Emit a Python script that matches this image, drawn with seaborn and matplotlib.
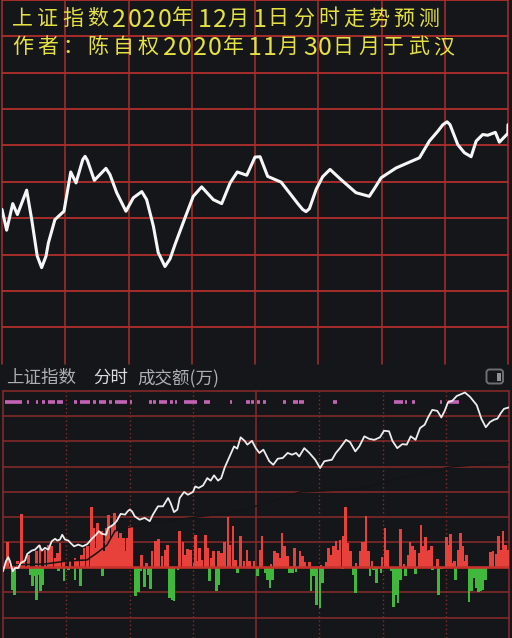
import matplotlib
matplotlib.use("Agg")
import matplotlib.pyplot as plt
import seaborn as sns
from matplotlib.patches import FancyBboxPatch, Rectangle

# ---------------------------------------------------------------------------
# Data
# ---------------------------------------------------------------------------
TITLE_LINE1 = "上证指数2020年12月1日分时走势预测"
TITLE_LINE2 = "作者：陈自权2020年11月30日月于武汉"
HEADER_NAME = "上证指数"
HEADER_MODE = "分时"
HEADER_UNIT = "成交额(万)"

# forecast curve (minutes since open, index points)
forecast_minutes = [
    0.0, 2.2, 5.1, 7.3, 11.7, 14.1, 16.7, 18.8, 20.9, 22.0, 25.1, 29.4, 32.6,
    35.1, 38.3, 39.4, 40.5, 43.8, 49.3, 51.2, 54.4, 58.8, 62.3, 66.3, 68.6,
    71.8, 74.1, 74.9, 77.3, 79.7, 82.1, 86.8, 90.7, 94.7, 100.2, 104.2, 108.2,
    111.6, 116.1, 120.0, 122.4, 126.0, 132.4, 136.3, 140.3, 142.6, 144.2,
    145.8, 149.0, 152.1, 155.6, 160.8, 167.9, 174.2, 176.6, 179.8, 186.9,
    198.0, 202.7, 206.7, 209.1, 211.1, 212.5, 216.2, 219.3, 222.5, 224.9,
    228.0, 230.4, 234.0, 235.9, 239.9, 240.0,
]
forecast_index = [
    3384.4, 3378.7, 3386.0, 3383.0, 3389.7, 3381.6, 3371.6, 3368.4, 3371.6,
    3375.2, 3381.6, 3383.9, 3394.7, 3391.7, 3398.1, 3399.0, 3397.9, 3392.4,
    3395.7, 3394.0, 3389.0, 3383.9, 3387.6, 3389.3, 3387.1, 3379.8, 3372.5,
    3371.6, 3368.7, 3370.8, 3374.8, 3382.1, 3388.0, 3390.6, 3387.1, 3386.0,
    3391.7, 3394.7, 3393.8, 3398.8, 3398.9, 3393.5, 3391.9, 3389.0, 3386.0,
    3384.4, 3383.8, 3384.6, 3389.9, 3393.4, 3395.4, 3392.6, 3389.0, 3388.0,
    3390.1, 3393.1, 3395.8, 3398.6, 3403.2, 3405.9, 3407.7, 3408.5, 3407.7,
    3402.2, 3400.0, 3398.9, 3403.2, 3405.0, 3404.8, 3405.6, 3402.9, 3405.3,
    3407.7,
]

# actual intraday price line (chart units)
price_minutes = [
    0.0, 1.4, 2.5, 3.3, 4.6, 5.7, 7.3, 8.4, 10.4, 11.5, 13.6, 15.2, 17.2, 18.4,
    19.9, 21.5, 23.1, 24.7, 25.8, 27.0, 28.1, 29.4, 31.0, 32.1, 33.7, 35.7,
    37.8, 40.0, 41.1, 42.5, 44.1, 45.5, 46.8, 48.9, 49.9, 52.3, 53.9, 55.8,
    57.9, 59.1, 60.1, 61.2, 62.5, 64.8, 67.2, 69.6, 71.1, 73.5, 75.9, 78.3,
    79.5, 81.1, 82.7, 83.8, 85.9, 87.7, 90.1, 91.2, 92.8, 94.9, 96.9, 98.5,
    100.1, 102.0, 103.5, 105.2, 107.5, 109.6, 111.1, 112.7, 114.6, 115.9,
    118.1, 119.9, 121.6, 123.5, 126.3, 128.2, 130.3, 132.7, 135.0, 137.1,
    139.0, 140.5, 142.9, 145.3, 148.1, 150.4, 152.4, 156.0, 157.9, 159.8,
    162.7, 164.6, 167.1, 169.0, 171.4, 173.7, 176.1, 178.8, 180.7, 183.1,
    184.7, 187.0, 189.4, 191.5, 193.4, 195.7, 197.8, 200.0, 201.6, 203.6,
    206.0, 207.9, 209.5, 211.1, 213.1, 215.2, 219.1, 221.5, 224.7, 226.9,
    229.0, 231.0, 232.9, 234.5, 236.1, 237.6, 240.0,
]
price_level = [
    -1.6, 2.4, 4.0, 2.4, -1.6, -0.3, -0.3, 1.7, 2.6, 5.3, 6.6, 7.0, 8.7, 6.6,
    7.7, 7.0, 10.3, 11.3, 10.6, 11.0, 12.9, 11.0, 10.6, 9.6, 8.3, 9.0, 8.3,
    9.2, 10.3, 11.6, 12.9, 14.3, 13.3, 12.9, 15.6, 16.9, 18.3, 21.2, 20.9,
    22.2, 22.9, 22.2, 20.2, 18.9, 19.6, 18.3, 20.9, 24.2, 24.2, 27.5, 25.5,
    21.9, 22.9, 27.5, 29.9, 28.8, 29.9, 32.1, 31.5, 32.5, 35.4, 34.4, 36.5,
    34.4, 35.4, 39.7, 44.0, 48.0, 47.1, 51.6, 50.2, 48.7, 50.2, 47.3, 45.4,
    46.7, 42.1, 40.7, 43.1, 43.4, 45.4, 44.7, 45.4, 44.0, 47.3, 45.4, 42.7,
    39.4, 42.1, 42.7, 45.4, 47.3, 50.6, 49.7, 46.0, 48.0, 52.0, 51.0, 50.6,
    51.6, 54.2, 54.0, 50.2, 47.3, 48.9, 48.7, 52.0, 50.6, 55.3, 56.6, 59.5,
    62.5, 62.1, 59.5, 62.1, 65.6, 66.1, 68.0, 69.4, 67.7, 64.4, 59.0, 55.6,
    57.7, 58.6, 59.0, 61.2, 62.9, 63.5,
]

# average price line (chart units)
avg_minutes = [3.3, 19.9, 30.4, 39.8, 44.6, 49.3, 53.1, 60.2, 74.5, 95.8,
               107.7, 121.9, 140.9, 169.3, 188.3, 212.0, 240.0]
avg_level = [0.9, 1.3, 2.5, 2.9, 5.7, 8.8, 14.4, 16.0, 18.0, 20.4, 21.5,
             24.7, 29.9, 31.1, 35.4, 39.8, 41.8]

# turnover difference bars
up_minutes = [
    2.0, 6.8, 8.7, 9.6, 12.0, 16.0, 17.5, 19.9, 21.5, 23.1, 24.7, 25.8, 27.0,
    28.6, 31.8, 34.2, 35.2, 37.3, 38.4, 40.0, 42.1, 42.8, 43.6, 44.9, 46.0,
    46.8, 47.6, 48.9, 49.9, 50.7, 51.7, 52.8, 53.9, 54.9, 55.8, 57.1, 57.9,
    59.0, 60.1, 60.9, 65.6, 68.0, 70.7, 72.2, 73.2, 73.8, 75.4, 77.0, 77.9,
    83.8, 85.4, 86.5, 87.4, 89.0, 90.6, 91.2, 92.2, 93.3, 94.4, 96.1, 97.2,
    98.8, 99.9, 102.3, 103.5, 105.2, 106.7, 107.5, 109.1, 110.2, 112.7, 114.3,
    115.7, 117.0, 119.1, 121.9, 122.9, 127.1, 128.7, 130.3, 131.1, 132.3,
    133.6, 135.0, 138.2, 140.9, 141.9, 142.9, 145.3, 150.8, 153.2, 154.5,
    155.6, 156.7, 157.9, 158.8, 159.8, 161.4, 162.4, 163.6, 164.7, 167.4,
    169.3, 170.3, 171.2, 172.2, 173.2, 175.0, 179.8, 181.2, 182.3, 188.6,
    190.2, 192.1, 193.0, 194.1, 195.3, 197.3, 198.3, 199.3, 200.3, 201.3,
    202.2, 203.2, 206.0, 210.3, 211.3, 212.3, 213.4, 214.3, 215.8, 217.1,
    218.1, 219.0, 220.0, 231.3, 232.4, 233.9, 234.9, 236.1, 237.2, 238.2,
    239.5,
]
up_amount = [
    10.0, 2.4, 21.3, 2.4, 5.0, 6.3, 9.0, 7.0, 9.0, 8.3, 3.7, 5.7, 9.6, 2.4,
    2.4, 3.7, 2.4, 5.0, 7.7, 8.3, 23.9, 15.6, 7.7, 17.6, 13.6, 14.3, 6.3, 15.6,
    20.9, 11.6, 16.9, 21.5, 14.3, 11.6, 13.6, 11.6, 6.3, 11.6, 16.3, 16.3, 5.0,
    1.7, 6.3, 10.6, 5.7, 11.2, 4.4, 7.0, 9.0, 14.3, 9.9, 5.0, 7.4, 7.0, 1.7,
    12.9, 2.4, 7.7, 3.0, 12.9, 7.7, 3.7, 6.3, 6.6, 5.7, 10.0, 20.0, 9.0, 16.5,
    3.0, 12.3, 2.4, 7.0, 2.4, 2.4, 7.0, 12.3, 1.3, 6.3, 5.7, 3.7, 13.6, 8.3,
    4.4, 7.7, 6.6, 4.4, 2.1, 2.1, 0.8, 2.1, 7.7, 5.0, 8.3, 10.3, 7.0, 11.0,
    12.3, 23.9, 9.6, 6.3, 1.7, 6.3, 10.0, 10.0, 20.2, 6.3, 2.4, 4.0, 15.6,
    7.0, 15.2, 1.4, 5.0, 10.0, 8.3, 7.0, 5.7, 16.7, 8.3, 11.9, 6.6, 7.0, 8.6,
    3.4, 11.9, 9.0, 13.2, 1.7, 2.6, 7.0, 13.6, 8.3, 2.4, 5.0, 6.0, 6.5, 5.2,
    12.3, 7.0, 14.3, 9.0, 7.0,
]
down_minutes = [
    4.4, 5.4, 13.1, 13.9, 14.8, 16.0, 17.0, 17.9, 18.8, 26.2, 28.9, 31.0,
    34.2, 36.9, 47.1, 62.8, 64.4, 65.3, 67.2, 68.8, 70.1, 78.9, 80.3, 81.1,
    83.0, 98.0, 101.2, 102.2, 111.1, 120.8, 124.4, 125.6, 126.6, 127.9,
    135.8, 137.4, 139.0, 146.1, 147.2, 148.8, 150.4, 151.6, 161.1, 166.2,
    167.2, 174.1, 175.6, 177.2, 179.3, 184.2, 185.1, 186.3, 187.4, 188.4,
    191.0, 195.7, 203.6, 206.5, 207.9, 214.7, 221.0, 222.1, 223.4, 224.7,
    225.6, 226.6, 227.7, 229.0,
]
down_amount = [
    -8.9, -10.9, -2.9, -7.5, -3.6, -12.9, -2.9, -9.5, -6.9, -1.3, -5.6, -1.0,
    -4.9, -7.5, -3.6, -11.5, -9.8, -1.6, -7.9, -3.2, -8.5, -12.2, -12.9,
    -13.3, -1.0, -5.3, -9.5, -6.9, -2.3, -3.6, -2.3, -4.9, -8.2, -4.9, -2.3,
    -2.3, -1.9, -9.3, -3.6, -14.8, -16.2, -6.2, -0.6, -2.9, -10.2, -3.6, -1.0,
    -6.2, -2.3, -1.6, -15.9, -10.9, -14.2, -4.9, -3.6, -2.6, -1.0, -10.9,
    -0.6, -4.9, -13.9, -9.5, -4.4, -8.2, -9.8, -9.5, -8.9, -4.9,
]

# signal marks in the top row (start / end minute)
signal_start = [
    0.9, 11.5, 15.7, 18.4, 21.5, 25.8, 33.7, 36.5, 42.5, 45.5, 50.4, 53.1,
    60.2, 69.3, 71.3, 74.1, 79.2, 81.7, 85.9, 95.3, 107.5, 115.4, 117.8,
    120.3, 123.2, 133.0, 137.7, 140.5, 156.7, 185.5, 190.5, 194.1, 207.3,
    211.1,
]
signal_end = [
    8.9, 12.5, 16.7, 19.9, 24.7, 28.6, 35.2, 41.3, 44.1, 48.9, 51.7, 58.7,
    61.0, 70.5, 72.6, 77.6, 80.5, 82.7, 92.2, 98.0, 108.8, 117.0, 119.1,
    121.9, 124.8, 134.2, 139.8, 142.9, 158.3, 189.9, 191.8, 195.4, 208.4,
    216.3,
]
SIGNAL_LEVEL = 65.6

# ---------------------------------------------------------------------------
# Style
# ---------------------------------------------------------------------------
W, H = 512, 638
BG = "#151619"
TOP_GRID_H = "#cc332e"
TOP_GRID_V = "#a82e2b"
BOT_GRID = "#8a2a29"
ZERO_LINE = "#c9322c"
UP_COLOR = "#e8413b"
DOWN_COLOR = "#3fb83b"
TITLE_COLOR = "#e6e143"

sns.set_theme(style="dark")
plt.rcParams["font.family"] = ["Noto Sans CJK SC", "DejaVu Sans"]


def px_rect(x0, y0, x1, y1):
    """Axes rectangle from pixel box (origin top-left)."""
    return [x0 / W, 1 - y1 / H, (x1 - x0) / W, (y1 - y0) / H]


fig = plt.figure(figsize=(W / 100, H / 100), dpi=100, facecolor=BG)

# ═══════════════════════════════════════════════════════════════════════
# Top panel: forecast curve
# ═══════════════════════════════════════════════════════════════════════
ax_top = fig.add_axes(px_rect(2, 0, 508, 363.6))
ax_top.set_xlim(0, 240)
ax_top.set_ylim(3342, 3442)
ax_top.axis("off")
for level in range(3352, 3443, 10):
    ax_top.axhline(level, color=TOP_GRID_H, lw=1.1, clip_on=False, zorder=1)
for m in range(0, 241, 30):
    ax_top.axvline(m, color=TOP_GRID_V, lw=1.1, clip_on=False, zorder=1)
sns.lineplot(x=forecast_minutes, y=forecast_index, ax=ax_top, color="#f6f6f6",
             linewidth=2.2, estimator=None, sort=False, zorder=3)
for ln in ax_top.get_lines()[-1:]:
    ln.set_solid_joinstyle("round")
    ln.set_solid_capstyle("round")

# ═══════════════════════════════════════════════════════════════════════
# Bottom panel: intraday chart with turnover bars
# ═══════════════════════════════════════════════════════════════════════
ax_bot = fig.add_axes(px_rect(3, 391, 509, 638))
ax_bot.set_xlim(0, 240)
ax_bot.set_ylim(-28.1, 70)
ax_bot.axis("off")
for level in range(-20, 71, 10):
    if level != 0:
        ax_bot.axhline(level, color=BOT_GRID, lw=1.1, clip_on=False, zorder=1)
for m in (30, 60, 90, 150, 180, 210):
    ax_bot.axvline(m, color=BOT_GRID, lw=1.0, ls=(0, (1, 2)), zorder=1)
for m in (0, 120, 240):
    ax_bot.axvline(m, color=BOT_GRID, lw=1.1, clip_on=False, zorder=1)

ax_bot.bar(up_minutes, up_amount, width=1.3, color=UP_COLOR, linewidth=0, zorder=2)
ax_bot.bar(down_minutes, down_amount, width=1.3, color=DOWN_COLOR, linewidth=0, zorder=2)
ax_bot.axhline(0, color=ZERO_LINE, lw=1.9, zorder=3)

ax_bot.hlines([SIGNAL_LEVEL] * len(signal_start), signal_start, signal_end,
              color="#c463b6", lw=2.6, zorder=3)

# average line is almost the background colour: only seen where it crosses red
sns.lineplot(x=avg_minutes, y=avg_level, ax=ax_bot, color="#131416",
             linewidth=1.1, estimator=None, sort=False, zorder=4)
sns.lineplot(x=price_minutes, y=price_level, ax=ax_bot, color="#ececec",
             linewidth=1.3, estimator=None, sort=False, zorder=5)

# ═══════════════════════════════════════════════════════════════════════
# Overlay: titles, header, icon (pixel coordinates)
# ═══════════════════════════════════════════════════════════════════════
ov = fig.add_axes([0, 0, 1, 1])
ov.set_xlim(0, W)
ov.set_ylim(H, 0)
ov.axis("off")
ov.set_zorder(10)
ov.patch.set_alpha(0)


def draw_title(text, x0, baseline):
    x = x0
    for ch in text:
        if ch.isdigit():
            ov.text(x, baseline + 2.2, ch, fontsize=18, color=TITLE_COLOR, va="baseline", ha="left")
            x += 15
        else:
            ov.text(x, baseline, ch, fontsize=15.1, color=TITLE_COLOR, va="baseline", ha="left")
            x += 25.1


draw_title(TITLE_LINE1, 12, 24.5)
draw_title(TITLE_LINE2, 12, 53.2)

ov.text(6, 383, HEADER_NAME, fontsize=12.6, color="#aab0b6", va="baseline", ha="left")
ov.text(93, 383, HEADER_MODE, fontsize=12.6, color="#dcdcdc", va="baseline", ha="left")
ov.text(137, 383, HEADER_UNIT, fontsize=12.6, color="#aab0b6", va="baseline", ha="left")

ov.add_patch(FancyBboxPatch((486.5, 369.5), 16.5, 14, boxstyle="round,pad=0,rounding_size=3",
                            fc="none", ec="#6c7075", lw=1.4))
ov.add_patch(Rectangle((496.5, 372.5), 4, 8, fc="#8e9297", ec="none"))

fig.savefig("out.png", dpi=100, facecolor=BG)
